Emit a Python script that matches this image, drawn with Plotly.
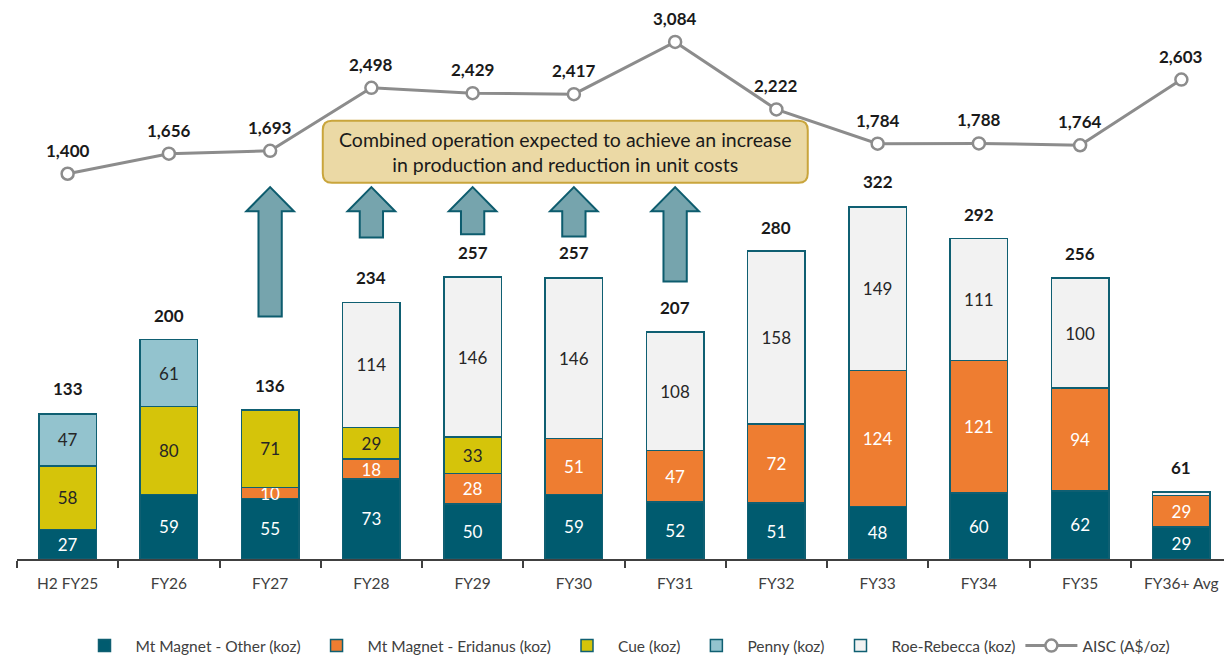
import plotly.graph_objects as go

# ---- data ----
periods = ["H2 FY25", "FY26", "FY27", "FY28", "FY29", "FY30", "FY31",
           "FY32", "FY33", "FY34", "FY35", "FY36+ Avg"]
mt_magnet_other = [27, 59, 55, 73, 50, 59, 52, 51, 48, 60, 62, 29]
mt_magnet_eridanus = [0, 0, 10, 18, 28, 51, 47, 72, 124, 121, 94, 29]
cue = [58, 80, 71, 29, 33, 0, 0, 0, 0, 0, 0, 0]
penny = [47, 61, 0, 0, 0, 0, 0, 0, 0, 0, 0, 0]
roe_rebecca = [0, 0, 0, 114, 146, 146, 108, 158, 149, 111, 100, 3]
totals = [133, 200, 136, 234, 257, 257, 207, 280, 322, 292, 256, 61]
aisc = [1400, 1656, 1693, 2498, 2429, 2417, 3084, 2222, 1784, 1788, 1764, 2603]

FONT = "Lato"
OUTLINE = "#0F5F72"
x = list(range(len(periods)))

series = [
    ("Mt Magnet - Other (koz)", mt_magnet_other, "#005B6F", "white"),
    ("Mt Magnet - Eridanus (koz)", mt_magnet_eridanus, "#EE7D31", "white"),
    ("Cue (koz)", cue, "#D5C40A", "#262626"),
    ("Penny (koz)", penny, "#93C3CE", "#262626"),
    ("Roe-Rebecca (koz)", roe_rebecca, "#F2F2F2", "#262626"),
]

fig = go.Figure()

for name, vals, color, txtcol in series:
    labels = [str(v) if v >= 5 else "" for v in vals]
    fig.add_trace(go.Bar(
        x=x, y=vals, name=name, width=0.57,
        marker=dict(color=color, line=dict(color=OUTLINE, width=1.5)),
        text=labels, textposition="inside", insidetextanchor="middle",
        textangle=0, constraintext="none",
        textfont=dict(color=txtcol, size=17, family=FONT),
        hoverinfo="skip",
    ))

fig.add_trace(go.Scatter(
    x=x, y=aisc, name="AISC (A$/oz)", yaxis="y2", mode="lines+markers",
    line=dict(color="#8C8C8C", width=3),
    marker=dict(symbol="circle", size=12, color="white",
                line=dict(color="#8C8C8C", width=2.5)),
    hoverinfo="skip",
))

annotations = []
for i, t in enumerate(totals):
    annotations.append(dict(x=i, y=t, xref="x", yref="y", text=f"<b>{t}</b>",
                            showarrow=False, yanchor="bottom", yshift=12,
                            font=dict(size=17, color="#1A1A1A", family=FONT)))
for i, a in enumerate(aisc):
    annotations.append(dict(x=i, y=a, xref="x", yref="y2", text=f"<b>{a:,}</b>",
                            showarrow=False, yanchor="bottom", yshift=11,
                            font=dict(size=17, color="#1A1A1A", family=FONT)))

# callout box with rounded corners (x in category units, y in koz units)
bx0, bx1, by0, by1 = 2.52, 7.31, 343, 399.5
rx, ry = 0.09, 8.5
box_path = (f"M {bx0 + rx},{by1} L {bx1 - rx},{by1} Q {bx1},{by1} {bx1},{by1 - ry} "
            f"L {bx1},{by0 + ry} Q {bx1},{by0} {bx1 - rx},{by0} "
            f"L {bx0 + rx},{by0} Q {bx0},{by0} {bx0},{by0 + ry} "
            f"L {bx0},{by1 - ry} Q {bx0},{by1} {bx0 + rx},{by1} Z")
shapes = [dict(type="path", path=box_path, xref="x", yref="y",
               fillcolor="#EBD9A5", line=dict(color="#C9A53C", width=2), layer="above")]
annotations.append(dict(x=(bx0 + bx1) / 2, y=(by0 + by1) / 2, xref="x", yref="y",
                        text="Combined operation expected to achieve an increase<br>"
                             "in production and reduction in unit costs",
                        showarrow=False, align="center",
                        font=dict(size=19.5, color="#1A1A1A", family=FONT)))

# up arrows: (category index, bottom in koz)
arrow_spots = [(2, 221), (3, 293), (4, 296), (5, 294), (6, 253)]
tip, head_base, hw, sw = 339, 317, 0.235, 0.115
for cx, bottom in arrow_spots:
    p = (f"M {cx - sw},{bottom} L {cx - sw},{head_base} L {cx - hw},{head_base} "
         f"L {cx},{tip} L {cx + hw},{head_base} L {cx + sw},{head_base} "
         f"L {cx + sw},{bottom} Z")
    shapes.append(dict(type="path", path=p, xref="x", yref="y",
                       fillcolor="#76A4AD", line=dict(color="#0D5C6E", width=2),
                       layer="above"))

# page body adds an 8px offset, so the figure is a bit smaller than the window
fig.update_layout(
    barmode="stack",
    width=1224, height=655,
    margin=dict(l=9, r=0, t=0, b=103),
    plot_bgcolor="white", paper_bgcolor="white",
    font=dict(family=FONT, color="#404040"),
    xaxis=dict(
        range=[-0.5, 11.5], tickmode="array", tickvals=x, ticktext=periods,
        ticks="", showgrid=False, zeroline=False,
        showline=True, linecolor="#404040", linewidth=1.5,
        tickfont=dict(size=15.5, color="#404040"), ticklabelstandoff=10,
        minor=dict(tick0=-0.5, dtick=1, ticks="outside", ticklen=7,
                   tickcolor="#404040", tickwidth=1.5, showgrid=False),
    ),
    yaxis=dict(range=[0, 502.3], visible=False, showgrid=False),
    yaxis2=dict(range=[-3523, 3518], overlaying="y", visible=False, showgrid=False),
    legend=dict(orientation="h", x=0.5, xanchor="center", y=-0.158, yanchor="middle",
                font=dict(size=15.5, color="#404040"), traceorder="normal",
                itemwidth=52),
    annotations=annotations,
    shapes=shapes,
    uniformtext=dict(minsize=17, mode="show"),
    showlegend=True,
)

fig.write_html("out.html")
